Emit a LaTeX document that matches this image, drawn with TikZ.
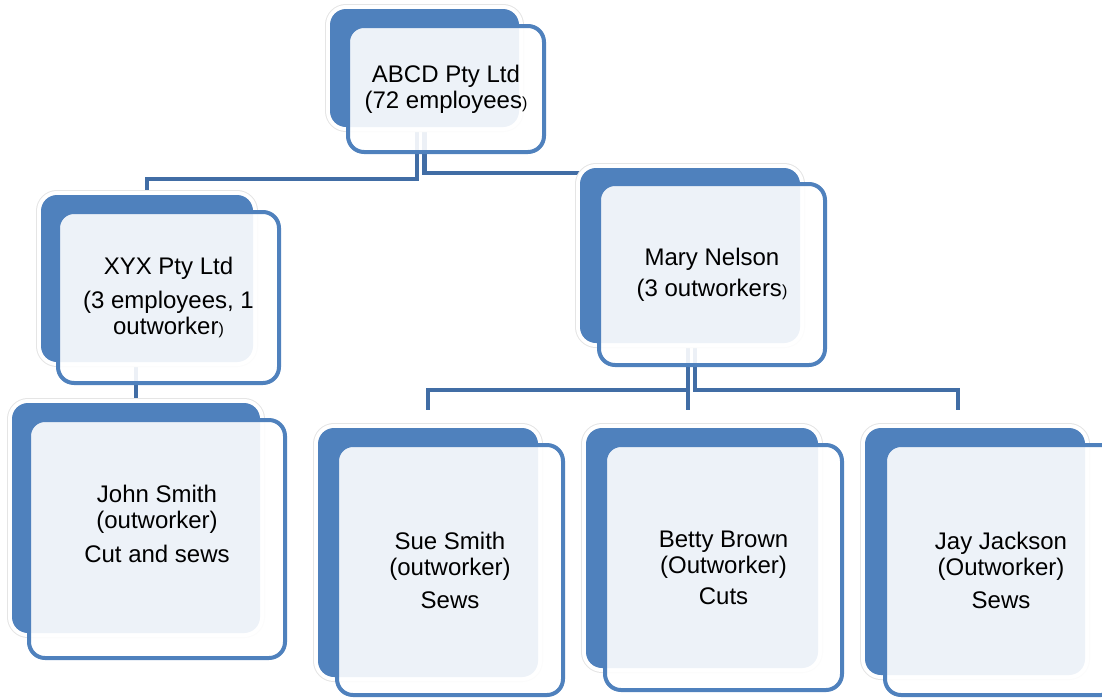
\documentclass[tikz,border=0pt]{standalone}
\usepackage{fontspec}
\setmainfont{Liberation Sans}
\usetikzlibrary{backgrounds}

\definecolor{boxblue}{HTML}{4F81BD}
\definecolor{linkblue}{HTML}{416DA5}

\begin{document}
\begin{tikzpicture}[x=1pt, y=-1pt]

% Set the page to the size of the chart
\useasboundingbox (0,0) rectangle (1102,697);

% Define styles for the back plates, the front cards and the links
\tikzstyle{back} = [rectangle, rounded corners=16, inner sep=0, fill=boxblue,
  preaction={draw=black!10, line width=10}, preaction={draw=white, line width=8}]
\tikzstyle{front} = [rectangle, rounded corners=16, inner sep=0, draw=boxblue, line width=4,
  fill=white, fill opacity=0.9, text opacity=1, align=center, font=\fontsize{24}{26}\selectfont]
\tikzstyle{conn} = [draw=linkblue, line width=4.5]

% Small closing bracket as in the original
\newcommand{\smallbr}{{\fontsize{16}{16}\selectfont)}}

% Back plates
\node[back, minimum width=189, minimum height=118] (abcdB) at (424.5,68) {};
\node[back, minimum width=212, minimum height=167] (xyxB) at (147,278.5) {};
\node[back, minimum width=220, minimum height=175] (maryB) at (690,255.5) {};
\node[back, minimum width=248, minimum height=230] (johnB) at (136,518) {};
\node[back, minimum width=220, minimum height=249] (sueB) at (428,552.5) {};
\node[back, minimum width=232, minimum height=240] (bettyB) at (702,548) {};
\node[back, minimum width=220, minimum height=247] (jayB) at (975,551.5) {};

% Front cards with the texts
\node[front, minimum width=196, minimum height=126] (abcd) at (446,89)
  {ABCD Pty Ltd\\(72 employees\smallbr};
\node[front, minimum width=221, minimum height=171] (xyx) at (168.5,297.5)
  {XYX Pty Ltd\\[8pt](3 employees, 1\\outworker\smallbr};
\node[front, minimum width=226, minimum height=181] (mary) at (712,274.5)
  {Mary Nelson\\[5pt](3 outworkers\smallbr};
\node[front, minimum width=256, minimum height=238, text depth=30] (john) at (157,539)
  {John Smith\\(outworker)\\[8pt]Cut and sews};
\node[front, minimum width=226, minimum height=250] (sue) at (450,570)
  {Sue Smith\\(outworker)\\[7pt]Sews};
\node[front, minimum width=237, minimum height=245] (betty) at (723.5,567.5)
  {Betty Brown\\(Outworker)\\[5pt]Cuts};
\node[front, minimum width=232, minimum height=250] (jay) at (1001,570)
  {Jay Jackson\\(Outworker)\\[7pt]Sews};

% Links, kept behind the cards
\begin{pgfonlayer}{background}
\draw[conn] ([xshift=-7.5]abcdB.south) -- ++(0,52) -| ([yshift=5]xyxB.north);
\draw[conn] (abcdB.south) -- ++(0,46) -| (maryB.north);
\draw[conn] ([yshift=5]johnB.north) -- (johnB.north |- xyxB.south);
\draw[conn] ([xshift=-2]maryB.south) -- ++(0,47) -| ([yshift=18]sueB.north);
\draw[conn] ([xshift=-2]maryB.south) -- ([xshift=-14,yshift=18]bettyB.north);
\draw[conn] ([xshift=5]maryB.south) -- ++(0,47) -| ([xshift=-17,yshift=18]jayB.north);
\end{pgfonlayer}

\end{tikzpicture}
\end{document}
